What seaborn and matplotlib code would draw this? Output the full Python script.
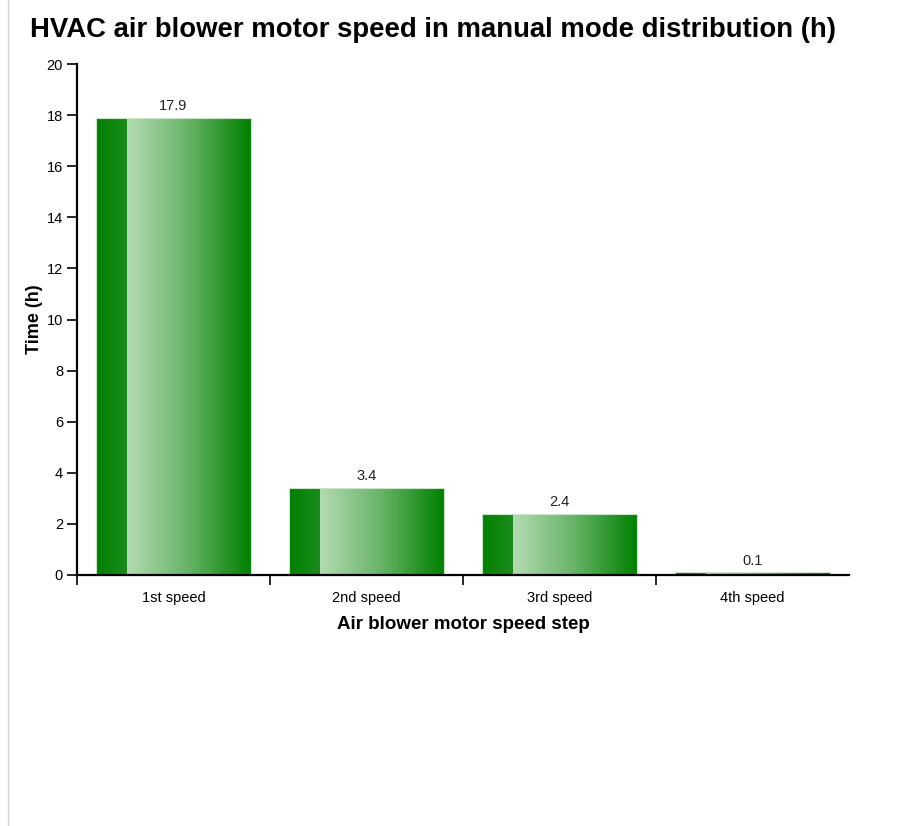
import numpy as np
import pandas as pd
import matplotlib
matplotlib.use("Agg")
import matplotlib.pyplot as plt
from matplotlib.lines import Line2D
from matplotlib.colors import LinearSegmentedColormap
import seaborn as sns

categories = ["1st speed", "2nd speed", "3rd speed", "4th speed"]
values = [17.9, 3.4, 2.4, 0.1]
value_labels = ["17.9", "3.4", "2.4", "0.1"]
yticks = [0, 2, 4, 6, 8, 10, 12, 14, 16, 18, 20]

sns.set_style("white")
plt.rcParams["font.family"] = ["Liberation Sans", "DejaVu Sans"]
plt.rcParams["text.color"] = "black"
plt.rcParams["axes.labelcolor"] = "black"
plt.rcParams["xtick.color"] = "black"
plt.rcParams["ytick.color"] = "black"

W, H = 910, 826
fig = plt.figure(figsize=(W / 100, H / 100), dpi=100)
ax = fig.add_axes([77 / W, 1 - 575 / H, (849 - 77) / W, (575 - 64) / H])

df = pd.DataFrame({"step": categories, "time": values})
sns.barplot(data=df, x="step", y="time", color="#008000", width=0.8, ax=ax,
            edgecolor="#c9e6c9", linewidth=0.8, saturation=1)

main_cmap = LinearSegmentedColormap.from_list("g", ["#b4dbb4", "#66b366", "#008000"])
strip_cmap = LinearSegmentedColormap.from_list("s", ["#028002", "#1a8c1a"])
grad = np.tile(np.linspace(0, 1, 512), (4, 1))

for p in list(ax.patches):
    x0, w, h = p.get_x(), p.get_width(), p.get_height()
    xs = x0 + 0.2 * w
    im1 = ax.imshow(grad, cmap=strip_cmap, extent=[x0, xs, -1, 21], aspect="auto",
                    zorder=2, interpolation="nearest")
    im1.set_clip_path(p)
    im2 = ax.imshow(grad, cmap=main_cmap, extent=[xs, x0 + w, -1, 21], aspect="auto",
                    zorder=2.5, interpolation="nearest")
    im2.set_clip_path(p)
    p.set_facecolor("none")
    p.set_zorder(3)

for i, (v, lab) in enumerate(zip(values, value_labels)):
    ax.annotate(lab, (i, v), xytext=(0, 3.5), textcoords="offset points",
                ha="center", va="bottom", fontsize=10.5, color="#222222")

ax.set_xlim(-0.5, 3.5)
ax.set_ylim(0, 20)
ax.set_yticks(yticks)
ax.set_yticklabels([str(t) for t in yticks])

for s in ["top", "right"]:
    ax.spines[s].set_visible(False)
for s in ["left", "bottom"]:
    ax.spines[s].set_color("black")
    ax.spines[s].set_linewidth(1.6)
    ax.spines[s].set_zorder(4)

ax.tick_params(axis="y", which="major", length=7, width=1.2, color="black",
               labelsize=10.5, pad=3, left=True)
ax.tick_params(axis="x", which="major", length=0, labelsize=10.5, pad=11.5)
ax.set_xticks([-0.5, 0.5, 1.5, 2.5], minor=True)
ax.tick_params(axis="x", which="minor", length=7, width=1.2, color="black", bottom=True)

ax.set_xlabel("Air blower motor speed step", fontsize=13.5, fontweight="bold", labelpad=8)
ax.set_ylabel("Time (h)", fontsize=13, fontweight="bold", labelpad=2.5)

fig.text(30 / W, 1 - 30 / H, "HVAC air blower motor speed in manual mode distribution (h)",
         ha="left", va="center", fontsize=19.8, fontweight="bold", color="black")

fig.add_artist(Line2D([8 / W, 8 / W], [0, 1], color="#d0d0d0", linewidth=1))

fig.savefig("out.png", dpi=100)
